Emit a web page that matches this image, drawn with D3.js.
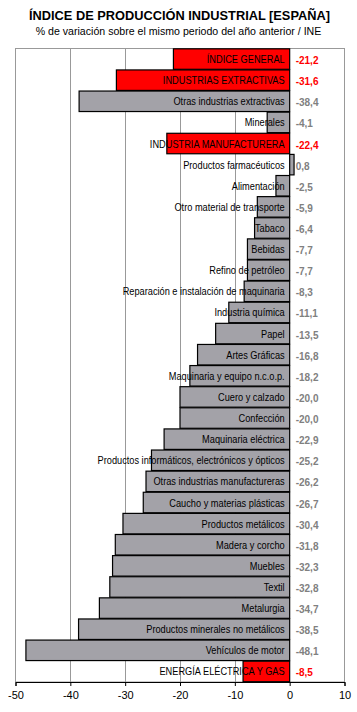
<!DOCTYPE html>
<html><head><meta charset="utf-8">
<script src="https://cdn.jsdelivr.net/npm/d3@7"></script>
<style>body{margin:0;background:#fff}</style>
</head><body><svg id="c" width="357" height="712"></svg>
<script>
const categories = ["ÍNDICE GENERAL","INDUSTRIAS EXTRACTIVAS","Otras industrias extractivas","Minerales","INDUSTRIA MANUFACTURERA","Productos farmacéuticos","Alimentación","Otro material de transporte","Tabaco","Bebidas","Refino de petróleo","Reparación e instalación de maquinaria","Industria química","Papel","Artes Gráficas","Maquinaria y equipo n.c.o.p.","Cuero y calzado","Confección","Maquinaria eléctrica","Productos informáticos, electrónicos y ópticos","Otras industrias manufactureras","Caucho y materias plásticas","Productos metálicos","Madera y corcho","Muebles","Textil","Metalurgia","Productos minerales no metálicos","Vehículos de motor","ENERGÍA ELÉCTRICA Y GAS"];
const values = [-21.2,-31.6,-38.4,-4.1,-22.4,0.8,-2.5,-5.9,-6.4,-7.7,-7.7,-8.3,-11.1,-13.5,-16.8,-18.2,-20.0,-20.0,-22.9,-25.2,-26.2,-26.7,-30.4,-31.8,-32.3,-32.8,-34.7,-38.5,-48.1,-8.5];
const highlighted = ["ÍNDICE GENERAL","INDUSTRIAS EXTRACTIVAS","INDUSTRIA MANUFACTURERA","ENERGÍA ELÉCTRICA Y GAS"];
const xTicks = [-50,-40,-30,-20,-10,0,10];
const title = "ÍNDICE DE PRODUCCIÓN INDUSTRIAL [ESPAÑA]";
const subtitle = "% de variación sobre el mismo periodo del año anterior / INE";

const data = categories.map((c,i)=>({c, v: values[i], hl: highlighted.includes(c)}));
const svg = d3.select("#c");
const font = "'Liberation Sans', Arial, sans-serif";
const L=15.5, R=344.5, T=48.5, B=682;
const x = d3.scaleLinear().domain([-50,10]).range([L,R]);
const y = d3.scaleBand().domain(categories).range([T,B]).paddingInner(0.03).paddingOuter(0.015);
const sx = 0.84;

svg.append("text").attr("x",179.5).attr("y",20).attr("text-anchor","middle")
  .attr("font-family",font).attr("font-weight","bold").attr("font-size",12.8).text(title);
svg.append("text").attr("x",178.5).attr("y",35).attr("text-anchor","middle")
  .attr("font-family",font).attr("font-size",10.6).text(subtitle);

svg.append("rect").attr("x",L).attr("y",T).attr("width",R-L).attr("height",B-T)
  .attr("fill","none").attr("stroke","#999");
svg.append("g").selectAll("line").data(xTicks.filter(t=>t>-50 && t<0)).join("line")
  .attr("x1",d=>Math.round(x(d))+0.5).attr("x2",d=>Math.round(x(d))+0.5)
  .attr("y1",T).attr("y2",B).attr("stroke","#999");

svg.append("g").selectAll("rect").data(data).join("rect")
  .attr("x",d=>x(Math.min(0,d.v))).attr("width",d=>Math.abs(x(d.v)-x(0)))
  .attr("y",d=>y(d.c)).attr("height",y.bandwidth())
  .attr("fill",d=>d.hl?"#ff0000":"#a3a2a8").attr("stroke","#000").attr("stroke-width",1.2);

svg.append("g").selectAll("text").data(data).join("text")
  .attr("transform",d=>`translate(${x(0)-5},${y(d.c)+y.bandwidth()/2+4}) scale(${sx},1)`)
  .attr("text-anchor","end").attr("font-family",font).attr("font-size",11)
  .attr("fill","#000").text(d=>d.c);

svg.append("g").selectAll("text").data(data).join("text")
  .attr("x",x(0)+6).attr("y",d=>y(d.c)+y.bandwidth()/2+5)
  .attr("font-family",font).attr("font-size",10).attr("font-weight","bold")
  .attr("fill",d=>d.hl?"#ff0000":"#808080")
  .text(d=>d3.format(".1f")(d.v).replace(".",",").replace("−","-"));

const ax = svg.append("g").attr("transform",`translate(0,${B})`)
  .call(d3.axisBottom(x).tickValues(xTicks).tickSize(4).tickFormat(d=>String(d)));
ax.select(".domain").attr("stroke","#000");
ax.selectAll(".tick line").attr("stroke","#000");
ax.selectAll(".tick text").attr("font-family",font).attr("font-size",11).attr("fill","#000").attr("dy","0.9em");
</script></body></html>
